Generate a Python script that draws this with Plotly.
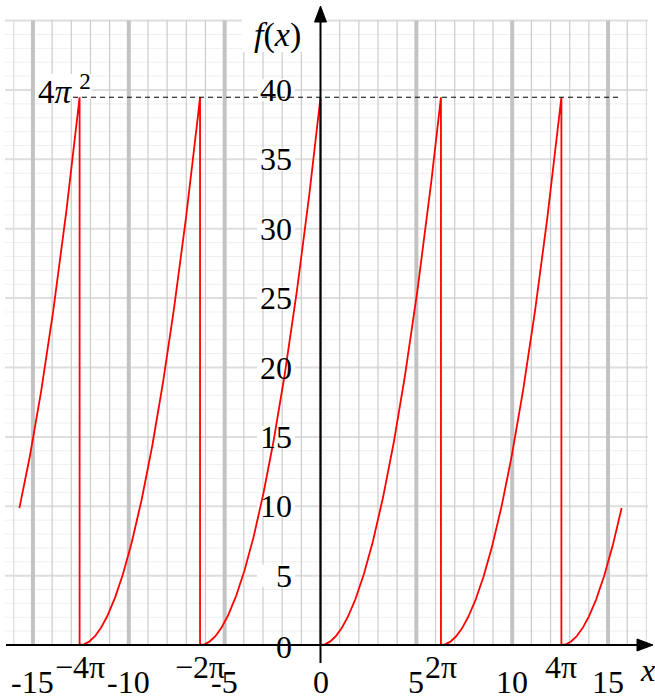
import numpy as np
import plotly.graph_objects as go

# ---------------- data ----------------
PI = np.pi
period = 2 * PI                      # f(x) = x^2 on [0, 2pi), periodic
domain = [-5 * PI, 5 * PI]
peak_value = 4 * PI ** 2
x_num_ticks = [-15, -10, -5, 0, 5, 10, 15]
x_num_text = ["-15", "-10", "-5", "0", "5", "10", "15"]
x_pi_ticks = [-4 * PI, -2 * PI, 2 * PI, 4 * PI]
x_pi_text = ["\u22124\u03c0", "\u22122\u03c0", "2\u03c0", "4\u03c0"]
y_ticks = [0, 5, 10, 15, 20, 25, 30, 35, 40]
y_text = [str(v) for v in y_ticks]

# ---------------- pixel <-> data helpers (layout only) ----------------
X0, SX = 320.5, 19.17
Y0, SY = 645.0, 13.875
def dx(px): return (px - X0) / SX
def dy(py): return (Y0 - py) / SY

# ---------------- curve ----------------
xs, ys = [], []
k_start = int(np.floor(domain[0] / period))
k_end = int(np.ceil(domain[1] / period))
for k in range(k_start, k_end):
    a = max(k * period, domain[0])
    b = min((k + 1) * period, domain[1])
    if b <= a:
        continue
    t = np.linspace(a, b, 200)
    f = (t - k * period) ** 2
    xs.extend(t.tolist()); ys.extend(f.tolist())
    if b < domain[1]:
        xs.append(b); ys.append(0.0)   # jump back to zero

fig = go.Figure()
fig.add_trace(go.Scatter(x=xs, y=ys, mode="lines",
                         line=dict(color="#ff0000", width=1.8),
                         hoverinfo="skip", showlegend=False))

shapes = []
# horizontal grid
hx0, hx1 = dx(5), dx(648)
for yv in range(1, 46):
    major = yv % 5 == 0
    shapes.append(dict(type="line", layer="below", xref="x", yref="y",
                       x0=hx0, x1=hx1, y0=yv, y1=yv,
                       line=dict(color="#dedede" if major else "#efefef",
                                 width=2 if major else 1)))
# vertical grid
for xv in range(-16, 18):
    if xv == 0:
        continue
    major = xv % 5 == 0
    if major:
        col, w = "#c3c3c3", 4
    elif xv in (-16, 17):
        col, w = "#dddddd", 1.2
    else:
        col, w = "#cccccc", 1.2
    shapes.append(dict(type="line", layer="below", xref="x", yref="y",
                       x0=xv, x1=xv, y0=0, y1=45, line=dict(color=col, width=w)))
# white box behind f(x)
shapes.append(dict(type="rect", layer="below", xref="x", yref="y",
                   x0=dx(242), x1=dx(318), y0=dy(52), y1=dy(0),
                   fillcolor="white", line=dict(width=0)))
# white box behind 4pi^2
shapes.append(dict(type="rect", layer="below", xref="x", yref="y",
                   x0=dx(35), x1=dx(92), y0=dy(99), y1=dy(74),
                   fillcolor="white", line=dict(width=0)))
# white boxes behind y tick labels
for yv in y_ticks[1:]:
    shapes.append(dict(type="rect", layer="below", xref="x", yref="y",
                       x0=dx(257), x1=dx(295), y0=yv - 11 / SY, y1=yv + 11 / SY,
                       fillcolor="white", line=dict(width=0)))

# dashed line at 4pi^2
shapes.append(dict(type="line", layer="above", xref="x", yref="y",
                   x0=dx(73), x1=domain[1], y0=peak_value, y1=peak_value,
                   line=dict(color="black", width=1, dash="5px,4px")))
# axes
shapes.append(dict(type="line", layer="above", xref="x", yref="y",
                   x0=dx(6), x1=dx(642), y0=0, y1=0,
                   line=dict(color="black", width=2)))
shapes.append(dict(type="line", layer="above", xref="x", yref="y",
                   x0=0, x1=0, y0=dy(663), y1=dy(18),
                   line=dict(color="black", width=2)))
# arrowheads
shapes.append(dict(type="path", layer="above", xref="x", yref="y",
                   path=f"M {dx(653)},{dy(645)} L {dx(637)},{dy(639)} L {dx(637)},{dy(651)} Z",
                   fillcolor="black", line=dict(color="black", width=1)))
shapes.append(dict(type="path", layer="above", xref="x", yref="y",
                   path=f"M {dx(320.5)},{dy(6)} L {dx(314.5)},{dy(22)} L {dx(326.5)},{dy(22)} Z",
                   fillcolor="black", line=dict(color="black", width=1)))

FONT = "Liberation Serif"
FS = 32
ann = []
for xv, tx in zip(x_num_ticks, x_num_text):
    ann.append(dict(x=xv, y=dy(682), text=tx, showarrow=False,
                    xanchor="center", yanchor="middle",
                    font=dict(family=FONT, size=FS, color="black")))
for xv, tx in zip(x_pi_ticks, x_pi_text):
    ann.append(dict(x=xv, y=dy(667), text=tx, showarrow=False,
                    xanchor="center", yanchor="middle",
                    font=dict(family=FONT, size=FS, color="black")))
for yv, tx in zip(y_ticks, y_text):
    ann.append(dict(x=dx(294), y=yv, text=tx, showarrow=False,
                    xanchor="right", yanchor="middle",
                    yshift=-2 if yv == 0 else 0,
                    font=dict(family=FONT, size=FS, color="black")))
ann.append(dict(x=dx(36), y=dy(89), text="4<i>\u03c0</i> <sup>2</sup>", showarrow=False,
                xanchor="left", yanchor="middle",
                font=dict(family=FONT, size=33, color="black")))
ann.append(dict(x=dx(277), y=dy(35), text="<i>f</i>(<i>x</i>)", showarrow=False,
                xanchor="center", yanchor="middle",
                font=dict(family=FONT, size=34, color="black")))
ann.append(dict(x=dx(647), y=dy(670), text="<i>x</i>", showarrow=False,
                xanchor="center", yanchor="middle",
                font=dict(family=FONT, size=FS, color="black")))

fig.update_layout(
    width=655, height=700, autosize=False,
    margin=dict(l=0, r=0, t=0, b=0, pad=0),
    paper_bgcolor="white", plot_bgcolor="white",
    xaxis=dict(range=[dx(0), dx(655)], visible=False, fixedrange=True),
    yaxis=dict(range=[dy(700), dy(0)], visible=False, fixedrange=True),
    shapes=shapes, annotations=ann, showlegend=False,
)
fig.write_html("out.html",
               config={"displayModeBar": False, "staticPlot": True},
               post_script="document.body.style.margin='0';document.body.style.overflow='hidden';")
